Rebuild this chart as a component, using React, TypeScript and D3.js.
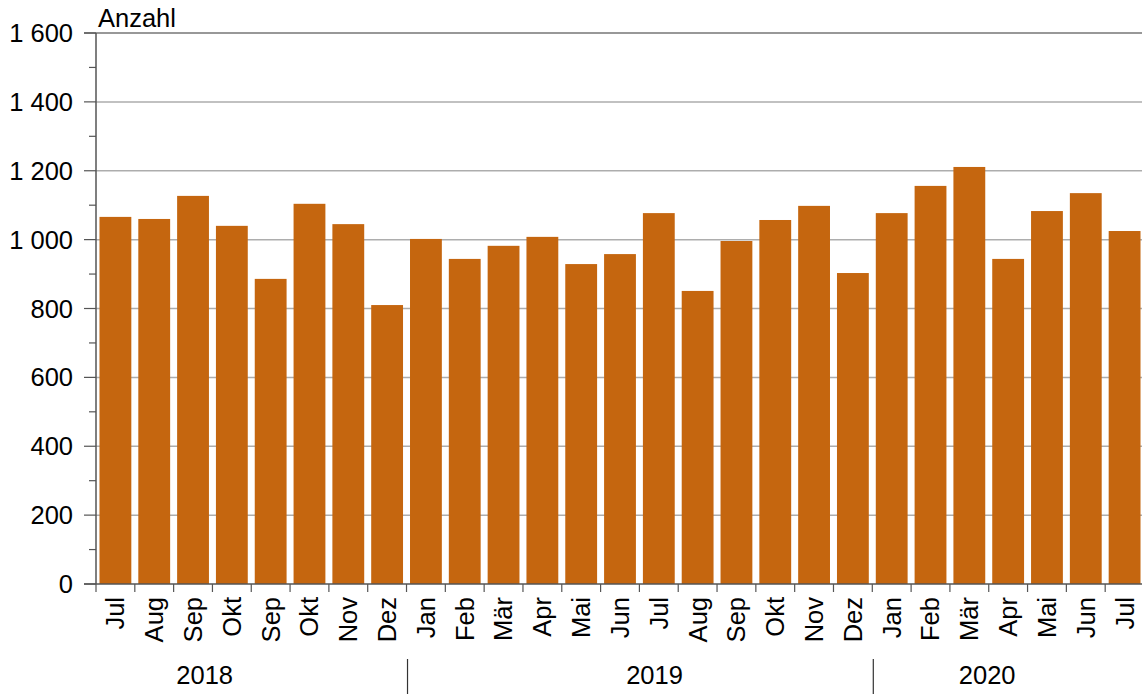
import React, { useRef, useEffect } from 'react';
import * as d3 from 'd3';

// month labels as printed under the bars
const months = ['Jul', 'Aug', 'Sep', 'Okt', 'Sep', 'Okt', 'Nov', 'Dez',
  'Jan', 'Feb', 'Mär', 'Apr', 'Mai', 'Jun', 'Jul', 'Aug', 'Sep', 'Okt', 'Nov', 'Dez',
  'Jan', 'Feb', 'Mär', 'Apr', 'Mai', 'Jun', 'Jul'];
const values = [1066, 1060, 1127, 1040, 886, 1104, 1045, 810,
  1002, 944, 982, 1008, 929, 958, 1077, 851, 996, 1057, 1098, 903,
  1077, 1156, 1211, 944, 1083, 1135, 1025];
const years = ['2018', '2019', '2020'];
const yearStarts = [0, 8, 20]; // index of first bar in each year
const yearLabelPos = [2.8, 14.39, 22.96]; // label position in band units
const yTicks = [0, 200, 400, 600, 800, 1000, 1200, 1400, 1600];

function App() {
  const ref = useRef<SVGSVGElement>(null);

  const width = 1142;
  const height = 694;
  const left = 96;
  const right = 1144;
  const top = 33;
  const bottom = 584;

  useEffect(() => {
    const svg = d3.select(ref.current);
    svg.selectAll('*').remove();
    const font = 'Liberation Sans, Arial, sans-serif';
    const fs = '25.5px';

    const x = d3.scaleBand<number>()
      .domain(d3.range(months.length))
      .range([left, right])
      .paddingInner(0.18)
      .paddingOuter(0.09);
    const step = x.step();
    const bx = (i: number) => left + i * step; // band boundary

    const y = d3.scaleLinear().domain([0, 1600]).range([bottom, top]);

    // gridlines
    svg.append('g')
      .selectAll('line')
      .data(yTicks.filter(d => d > 0 && d < 1600))
      .enter()
      .append('line')
      .attr('x1', left).attr('x2', width)
      .attr('y1', d => y(d)).attr('y2', d => y(d))
      .attr('stroke', '#adadad')
      .attr('stroke-width', 1.5);

    // bars
    svg.append('g')
      .selectAll('rect')
      .data(values)
      .enter()
      .append('rect')
      .attr('x', (d, i) => x(i)!)
      .attr('width', x.bandwidth())
      .attr('y', d => y(d))
      .attr('height', d => bottom - y(d))
      .attr('fill', '#c5660f');

    // top line at 1600
    svg.append('line')
      .attr('x1', 84).attr('x2', width)
      .attr('y1', y(1600)).attr('y2', y(1600))
      .attr('stroke', '#333').attr('stroke-width', 1.2);

    // y axis
    svg.append('line')
      .attr('x1', left).attr('x2', left)
      .attr('y1', top).attr('y2', bottom)
      .attr('stroke', '#555').attr('stroke-width', 1.5);

    const minor = d3.range(100, 1600, 200);
    svg.append('g').selectAll('line')
      .data(minor)
      .enter()
      .append('line')
      .attr('x1', 89).attr('x2', left)
      .attr('y1', d => y(d)).attr('y2', d => y(d))
      .attr('stroke', '#555').attr('stroke-width', 1.2);
    svg.append('g').selectAll('line')
      .data(yTicks)
      .enter()
      .append('line')
      .attr('x1', 84).attr('x2', left)
      .attr('y1', d => y(d)).attr('y2', d => y(d))
      .attr('stroke', '#555').attr('stroke-width', 1.2);

    svg.append('g').selectAll('text')
      .data(yTicks)
      .enter()
      .append('text')
      .attr('x', 73)
      .attr('y', d => y(d) + 9)
      .attr('text-anchor', 'end')
      .style('font-family', font)
      .style('font-size', fs)
      .text(d => d3.format(',')(d).replace(/,/g, ' '));

    svg.append('text')
      .attr('x', 98).attr('y', 27)
      .style('font-family', font)
      .style('font-size', fs)
      .text('Anzahl');

    // x axis
    svg.append('line')
      .attr('x1', 84).attr('x2', width)
      .attr('y1', bottom).attr('y2', bottom)
      .attr('stroke', '#555').attr('stroke-width', 1.5);

    svg.append('g').selectAll('line')
      .data(d3.range(months.length + 1))
      .enter()
      .append('line')
      .attr('x1', d => bx(d)).attr('x2', d => bx(d))
      .attr('y1', bottom).attr('y2', bottom + 8)
      .attr('stroke', '#555').attr('stroke-width', 1.2);

    svg.append('g').selectAll('text')
      .data(months)
      .enter()
      .append('text')
      .attr('transform', (d, i) => 'translate(' + (x(i)! + x.bandwidth() / 2) + ',' + (bottom + 13) + ') rotate(-90)')
      .attr('text-anchor', 'end')
      .attr('dy', '0.35em')
      .style('font-family', font)
      .style('font-size', fs)
      .text(d => d);

    // year separators and labels
    svg.append('g').selectAll('line')
      .data(yearStarts.slice(1))
      .enter()
      .append('line')
      .attr('x1', d => bx(d) + 1).attr('x2', d => bx(d) + 1)
      .attr('y1', 659).attr('y2', height)
      .attr('stroke', '#333').attr('stroke-width', 1.2);

    svg.append('g').selectAll('text')
      .data(years)
      .enter()
      .append('text')
      .attr('x', (d, i) => bx(yearLabelPos[i]))
      .attr('y', 684)
      .attr('text-anchor', 'middle')
      .style('font-family', font)
      .style('font-size', fs)
      .text(d => d);
  }, []);

  return (
    <svg ref={ref} width={width} height={height}
      style={{ position: 'absolute', left: 0, top: 0, background: '#fff' }}>
    </svg>
  );
}

export default App;
